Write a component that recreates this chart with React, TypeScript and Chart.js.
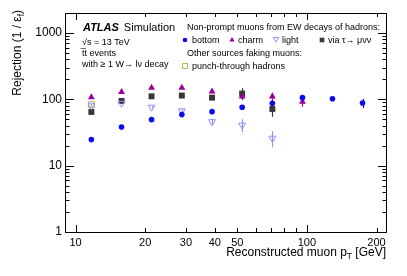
import React, { useEffect, useRef } from "react";
import { Chart, registerables } from "chart.js";

Chart.register(...registerables);

const ptBins = [11.7, 15.8, 21.3, 28.8, 38.9, 52.5, 70.9, 95.7, 129, 174];
const bottomVals = [24.7, 38.3, 49.4, 58.8, 65.2, 76, 87.4, 106, 102, 88];
const bottomErr = [0.5, 0.8, 1, 1.5, 2, 3, 5, 10, 8, 14];
const charmVals = [107, 129, 149, 149, 131, 110, 110, 92];
const charmErr = [2, 3, 4, 5, 7, 10, 15, 14];
const lightVals = [80, 87, 76, 67, 46, 41, 25.9];
const lightErr = [2, 3, 3, 3, 5, 9, 7];
const tauVals = [64.5, 94.6, 111, 114, 106, 122, 71.6];
const tauErr = [2, 4, 5, 7, 9, 25, 17];
const punchVals = [83];
const punchErr = [2];

const xTickVals = [10, 20, 30, 40, 50, 100, 200];
const yTickVals = [1, 10, 100, 1000];

const FONT = "'Liberation Sans', Arial, Helvetica, sans-serif";
const C_BOTTOM = "#0a0aee";
const C_CHARM = "#990099";
const C_LIGHT = "#9090ff";
const C_TAU = "#383838";
const C_PUNCH = "#bdb040";

function toPts(vals: number[]) {
  return vals.map((v, i) => ({ x: ptBins[i], y: v }));
}

function marker(ctx: CanvasRenderingContext2D, kind: string, x: number, y: number, r: number, color: string) {
  ctx.save();
  ctx.lineWidth = 1;
  ctx.strokeStyle = color;
  ctx.fillStyle = color;
  ctx.beginPath();
  if (kind === "circle") {
    ctx.arc(x, y, r, 0, Math.PI * 2);
    ctx.fill();
  } else if (kind === "tri") {
    ctx.moveTo(x, y - r);
    ctx.lineTo(x + r * 0.866, y + r * 0.5);
    ctx.lineTo(x - r * 0.866, y + r * 0.5);
    ctx.closePath();
    ctx.fill();
  } else if (kind === "tridown") {
    ctx.moveTo(x, y + r);
    ctx.lineTo(x + r * 0.866, y - r * 0.5);
    ctx.lineTo(x - r * 0.866, y - r * 0.5);
    ctx.closePath();
    ctx.fillStyle = "#fff";
    ctx.fill();
    ctx.stroke();
  } else if (kind === "rect") {
    ctx.rect(x - r, y - r, 2 * r, 2 * r);
    ctx.fill();
  } else if (kind === "openrect") {
    ctx.rect(x - r + 0.5, y - r + 0.5, 2 * r - 1, 2 * r - 1);
    ctx.stroke();
  }
  ctx.restore();
}

const errorSets = [
  { vals: bottomVals, err: bottomErr, color: C_BOTTOM },
  { vals: charmVals, err: charmErr, color: C_CHARM },
  { vals: lightVals, err: lightErr, color: C_LIGHT },
  { vals: tauVals, err: tauErr, color: C_TAU },
  { vals: punchVals, err: punchErr, color: C_PUNCH },
];

const decorPlugin = {
  id: "decor",
  beforeDatasetsDraw(chart: any) {
    const ctx = chart.ctx as CanvasRenderingContext2D;
    const xs = chart.scales.x;
    const ys = chart.scales.y;
    ctx.save();
    ctx.lineWidth = 1.2;
    for (const s of errorSets) {
      ctx.strokeStyle = s.color;
      s.vals.forEach((v, i) => {
        const px = Math.round(xs.getPixelForValue(ptBins[i])) + 0.5;
        ctx.beginPath();
        ctx.moveTo(px, ys.getPixelForValue(v + s.err[i]));
        ctx.lineTo(px, ys.getPixelForValue(Math.max(v - s.err[i], 1.01)));
        ctx.stroke();
      });
    }
    ctx.restore();
  },
  afterDraw(chart: any) {
    const ctx = chart.ctx as CanvasRenderingContext2D;
    const a = chart.chartArea;
    const xs = chart.scales.x;
    const ys = chart.scales.y;
    ctx.save();
    ctx.strokeStyle = "#000";
    ctx.lineWidth = 1;
    // frame
    ctx.strokeRect(Math.round(a.left) + 0.5, Math.round(a.top) + 0.5, Math.round(a.right - a.left) - 1, Math.round(a.bottom - a.top));
    ctx.beginPath();
    // y ticks
    for (let d = 1; d <= 1000; d *= 10) {
      for (let m = 1; m <= 9; m++) {
        const v = d * m;
        if (v > ys.max) break;
        const py = Math.round(ys.getPixelForValue(v)) + 0.5;
        const len = m === 1 ? 9 : 4.5;
        ctx.moveTo(a.left, py);
        ctx.lineTo(a.left + len, py);
        ctx.moveTo(a.right, py);
        ctx.lineTo(a.right - len, py);
      }
    }
    // x ticks
    for (let d = 1; d <= 100; d *= 10) {
      for (let m = 1; m <= 9; m++) {
        const v = d * m;
        if (v < xs.min || v > xs.max) continue;
        const px = Math.round(xs.getPixelForValue(v)) + 0.5;
        const len = m === 1 ? 7 : 4;
        ctx.moveTo(px, a.bottom);
        ctx.lineTo(px, a.bottom - len);
        ctx.moveTo(px, a.top);
        ctx.lineTo(px, a.top + len);
      }
    }
    ctx.stroke();

    // axis titles
    ctx.fillStyle = "#000";
    ctx.textBaseline = "alphabetic";
    // x title
    const f = 12;
    ctx.font = `${f}px ${FONT}`;
    const t1 = "Reconstructed muon p";
    const t2 = " [GeV]";
    ctx.font = `${f * 0.7}px ${FONT}`;
    const wSub = ctx.measureText("T").width;
    ctx.font = `${f}px ${FONT}`;
    const w1 = ctx.measureText(t1).width;
    const w2 = ctx.measureText(t2).width;
    const xEnd = a.right - 1;
    const yBase = 255.5;
    let xStart = xEnd - w1 - wSub - w2;
    ctx.textAlign = "left";
    ctx.fillText(t1, xStart, yBase);
    ctx.font = `${f * 0.7}px ${FONT}`;
    ctx.fillText("T", xStart + w1, yBase + 3);
    ctx.font = `${f}px ${FONT}`;
    ctx.fillText(t2, xStart + w1 + wSub, yBase);

    // y title
    ctx.save();
    ctx.translate(21, a.top - 3);
    ctx.rotate(-Math.PI / 2);
    const y1 = "Rejection (1 / \u03b5";
    const y2 = ")";
    ctx.font = `${f * 0.7}px ${FONT}`;
    const wf = ctx.measureText("f").width;
    ctx.font = `${f}px ${FONT}`;
    const wy1 = ctx.measureText(y1).width;
    const wy2 = ctx.measureText(y2).width;
    const ys0 = -(wy1 + wf + wy2);
    ctx.fillText(y1, ys0, 0);
    ctx.font = `${f * 0.7}px ${FONT}`;
    ctx.fillText("f", ys0 + wy1, 3);
    ctx.font = `${f}px ${FONT}`;
    ctx.fillText(y2, ys0 + wy1 + wf, 0);
    ctx.restore();

    // ATLAS label
    ctx.font = `bold italic 11px ${FONT}`;
    ctx.fillText("ATLAS", 83, 31);
    const wA = ctx.measureText("ATLAS").width;
    ctx.font = `11px ${FONT}`;
    ctx.fillText("Simulation", 83 + wA + 5, 31);
    ctx.font = `9px ${FONT}`;
    ctx.fillText("\u221As = 13 TeV", 82, 45);
    ctx.fillText("t\u0305t events", 82, 56);
    ctx.fillText("with \u2265 1 W\u2192 l\u03bd decay", 82, 67);

    // legend
    ctx.font = `9px ${FONT}`;
    ctx.fillText("Non-prompt muons from EW decays of hadrons:", 187, 30);
    const rowY = 43;
    marker(ctx, "circle", 185, rowY - 3, 2.3, C_BOTTOM);
    ctx.fillText("bottom", 192, rowY);
    marker(ctx, "tri", 232, rowY - 3, 3, C_CHARM);
    ctx.fillText("charm", 238, rowY);
    marker(ctx, "tridown", 276, rowY - 4, 3.2, C_LIGHT);
    ctx.fillText("light", 282, rowY);
    marker(ctx, "rect", 322, rowY - 3, 2.3, C_TAU);
    ctx.fillText("via \u03c4\u2192 \u03bc\u03bd\u03bd", 328, rowY);
    ctx.fillText("Other sources faking muons:", 187, 56);
    marker(ctx, "openrect", 185, 66, 3, C_PUNCH);
    ctx.fillText("punch-through hadrons", 192, 69);
    ctx.restore();
  },
};

export default function App() {
  const ref = useRef<HTMLCanvasElement | null>(null);
  useEffect(() => {
    if (!ref.current) return;
    const chart = new Chart(ref.current, {
      type: "scatter",
      data: {
        datasets: [
          {
            label: "bottom",
            data: toPts(bottomVals),
            pointStyle: "circle",
            pointRadius: 2.8,
            backgroundColor: C_BOTTOM,
            borderColor: C_BOTTOM,
            borderWidth: 0,
          },
          {
            label: "charm",
            data: toPts(charmVals),
            pointStyle: "triangle",
            pointRadius: 4,
            backgroundColor: C_CHARM,
            borderColor: C_CHARM,
            borderWidth: 0,
          },
          {
            label: "light",
            data: toPts(lightVals),
            pointStyle: "triangle",
            rotation: 180,
            pointRadius: 4,
            backgroundColor: "rgba(255,255,255,0)",
            borderColor: C_LIGHT,
            borderWidth: 1,
          },
          {
            label: "via tau",
            data: toPts(tauVals),
            pointStyle: "rect",
            pointRadius: 4.2,
            backgroundColor: C_TAU,
            borderColor: C_TAU,
            borderWidth: 0,
          },
          {
            label: "punch-through hadrons",
            data: toPts(punchVals),
            pointStyle: "rect",
            pointRadius: 4.2,
            backgroundColor: "rgba(255,255,255,0)",
            borderColor: C_PUNCH,
            borderWidth: 1,
          },
        ],
      },
      options: {
        animation: false,
        responsive: true,
        maintainAspectRatio: false,
        layout: { padding: { left: 0, right: 20, top: 13, bottom: 0 } },
        plugins: { legend: { display: false }, tooltip: { enabled: false } },
        scales: {
          x: {
            type: "logarithmic",
            min: 9,
            max: 222,
            grid: { display: false, drawTicks: false },
            border: { display: false },
            afterBuildTicks: (s: any) => {
              s.ticks = xTickVals.map((v) => ({ value: v }));
            },
            afterFit: (s: any) => {
              s.height = 44;
            },
            ticks: {
              autoSkip: false,
              maxRotation: 0,
              padding: 4,
              color: "#000",
              font: { family: FONT, size: 11 },
              callback: (v: any) => String(v),
            },
          },
          y: {
            type: "logarithmic",
            min: 1,
            max: 2000,
            grid: { display: false, drawTicks: false },
            border: { display: false },
            afterBuildTicks: (s: any) => {
              s.ticks = yTickVals.map((v) => ({ value: v }));
            },
            afterFit: (s: any) => {
              s.width = 65;
            },
            ticks: {
              autoSkip: false,
              padding: 3,
              color: "#000",
              font: { family: FONT, size: 12 },
              callback: (v: any) => String(v),
            },
          },
        },
      },
      plugins: [decorPlugin],
    } as any);
    return () => chart.destroy();
  }, []);
  return (
    <div style={{ position: "absolute", left: 0, top: 0, width: 407, height: 276, background: "#fff" }}>
      <canvas ref={ref} />
    </div>
  );
}
